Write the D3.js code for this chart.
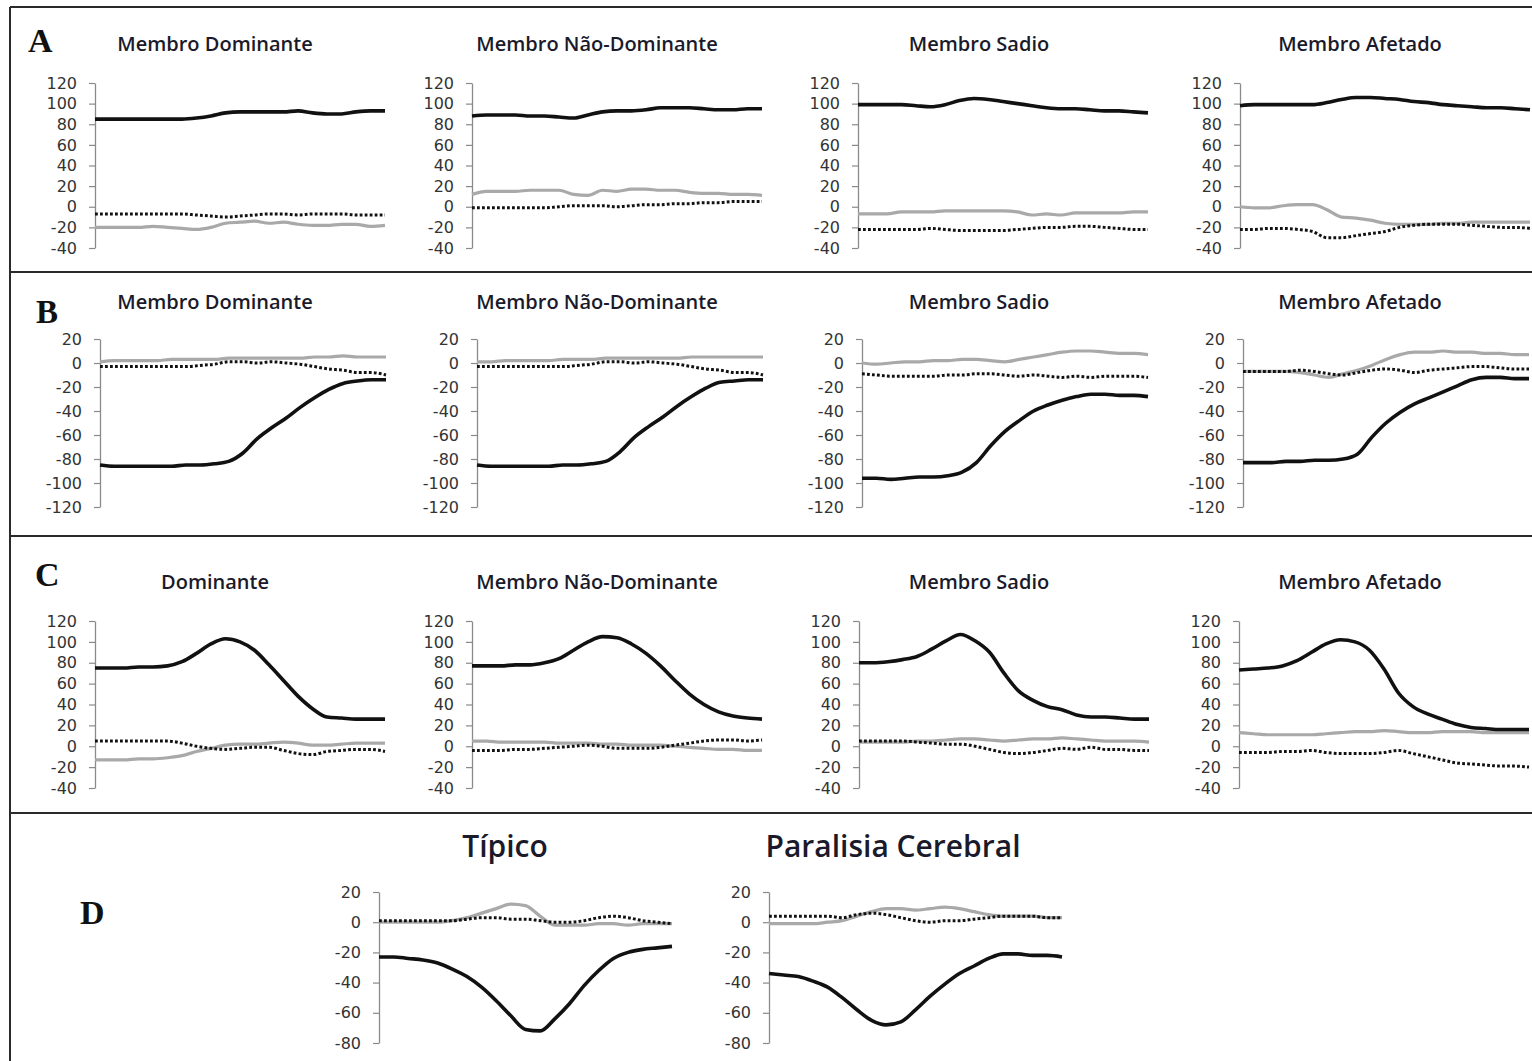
<!DOCTYPE html>
<html><head><meta charset="utf-8">
<script src="https://cdn.jsdelivr.net/npm/d3@7"></script>
<style>body{margin:0;background:#fff;} svg{display:block;}</style>
</head><body><svg id="c" width="1532" height="1061"></svg>
<script>
// ---------- DATA ----------
const timePct = [0,5,10,15,20,25,30,35,40,45,50,55,60,65,70,75,80,85,90,95,100];

const titlesA = ["Membro Dominante","Membro Não-Dominante","Membro Sadio","Membro Afetado"];
const titlesB = ["Membro Dominante","Membro Não-Dominante","Membro Sadio","Membro Afetado"];
const titlesC = ["Dominante","Membro Não-Dominante","Membro Sadio","Membro Afetado"];
const titlesD = ["Típico","Paralisia Cerebral"];
const panelLetters = ["A","B","C","D"];

const ticksA = [120,100,80,60,40,20,0,-20,-40];
const ticksB = [20,0,-20,-40,-60,-80,-100,-120];
const ticksC = [120,100,80,60,40,20,0,-20,-40];
const ticksD = [20,0,-20,-40,-60,-80];

// Panel A
const A1_black  = [85,85,85,85,85,85,85,86,88,91,92,92,92,92,93,91,90,90,92,93,93];
const A1_gray   = [-20,-20,-20,-20,-19,-20,-21,-22,-20,-16,-15,-14,-16,-15,-17,-18,-18,-17,-17,-19,-18];
const A1_dotted = [-7,-7,-7,-7,-7,-7,-7,-8,-9,-10,-9,-8,-7,-7,-8,-7,-7,-7,-8,-8,-8];
const A2_black  = [88,89,89,89,88,88,87,86,89,92,93,93,94,96,96,96,95,94,94,95,95];
const A2_gray   = [12,15,15,15,16,16,16,12,11,16,15,17,17,16,16,14,13,13,12,12,11];
const A2_dotted = [-1,-1,-1,-1,-1,-1,0,1,1,1,0,1,2,2,3,3,4,4,5,5,5];
const A3_black  = [99,99,99,99,98,97,99,103,105,104,102,100,98,96,95,95,94,93,93,92,91];
const A3_gray   = [-7,-7,-7,-5,-5,-5,-4,-4,-4,-4,-4,-5,-8,-7,-8,-6,-6,-6,-6,-5,-5];
const A3_dotted = [-22,-22,-22,-22,-22,-21,-22,-23,-23,-23,-23,-22,-21,-20,-20,-19,-19,-20,-21,-22,-22];
const A4_black  = [98,99,99,99,99,99,101,104,106,106,105,104,102,101,99,98,97,96,96,95,94];
const A4_gray   = [0,-1,-1,1,2,2,-3,-10,-11,-13,-16,-17,-17,-17,-16,-16,-15,-15,-15,-15,-15];
const A4_dotted = [-22,-22,-21,-21,-22,-24,-30,-30,-28,-26,-24,-20,-18,-17,-17,-17,-18,-19,-20,-20,-21];

// Panel B
const B1_black  = [-85,-86,-86,-86,-86,-86,-85,-85,-84,-82,-75,-63,-54,-46,-37,-29,-22,-17,-15,-14,-14];
const B1_gray   = [1,2,2,2,2,3,3,3,3,4,4,4,4,4,4,5,5,6,5,5,5];
const B1_dotted = [-3,-3,-3,-3,-3,-3,-3,-2,-1,1,1,0,1,0,-1,-3,-5,-6,-8,-8,-10];
const B2_black  = [-85,-86,-86,-86,-86,-86,-85,-85,-84,-82,-74,-62,-53,-45,-36,-28,-21,-16,-15,-14,-14];
const B2_gray   = [1,1,2,2,2,2,3,3,3,4,4,4,4,4,4,5,5,5,5,5,5];
const B2_dotted = [-3,-3,-3,-3,-3,-3,-3,-2,-1,1,1,0,1,0,-1,-3,-5,-6,-8,-8,-10];
const B3_black  = [-96,-96,-97,-96,-95,-95,-94,-91,-83,-69,-57,-48,-40,-35,-31,-28,-26,-26,-27,-27,-28];
const B3_gray   = [0,-1,0,1,1,2,2,3,3,2,1,3,5,7,9,10,10,9,8,8,7];
const B3_dotted = [-9,-10,-11,-11,-11,-11,-10,-10,-9,-9,-10,-11,-10,-11,-12,-11,-12,-11,-11,-11,-12];
const B4_black  = [-83,-83,-83,-82,-82,-81,-81,-80,-76,-62,-50,-41,-34,-29,-24,-19,-14,-12,-12,-13,-13];
const B4_gray   = [-7,-7,-7,-7,-8,-10,-12,-9,-6,-2,3,7,9,9,10,9,9,8,8,7,7];
const B4_dotted = [-7,-7,-7,-7,-6,-7,-9,-10,-8,-6,-5,-6,-8,-6,-5,-4,-3,-3,-4,-5,-5];

// Panel C
const C1_black  = [75,75,75,76,76,77,81,89,98,103,100,92,78,63,48,36,28,27,26,26,26];
const C1_gray   = [-13,-13,-13,-12,-12,-11,-9,-5,-2,1,2,2,3,4,3,1,1,2,3,3,3];
const C1_dotted = [5,5,5,5,5,5,3,0,-2,-3,-2,-1,-1,-4,-7,-8,-5,-4,-3,-3,-5];
const C2_black  = [77,77,77,78,78,80,84,92,100,105,104,98,89,77,63,50,40,33,29,27,26];
const C2_gray   = [5,5,4,4,4,4,3,3,3,2,2,1,1,1,0,-1,-2,-3,-3,-4,-4];
const C2_dotted = [-4,-4,-4,-3,-3,-2,-1,0,1,0,-2,-2,-2,-1,1,3,5,6,6,5,6];
const C3_black  = [80,80,81,83,86,93,101,107,101,90,70,53,44,38,35,30,28,28,27,26,26];
const C3_gray   = [4,4,4,4,5,5,6,7,7,6,5,6,7,7,8,7,6,5,5,5,4];
const C3_dotted = [5,5,5,5,4,3,2,2,0,-3,-6,-7,-6,-4,-2,-3,-1,-3,-3,-4,-4];
const C4_black  = [73,74,75,77,82,90,98,102,100,92,74,51,38,31,26,21,18,17,16,16,16];
const C4_gray   = [13,12,11,11,11,11,12,13,14,14,15,14,13,13,14,14,14,13,13,13,13];
const C4_dotted = [-6,-6,-6,-5,-5,-4,-6,-7,-7,-7,-6,-4,-7,-10,-13,-16,-17,-18,-19,-19,-20];

// Panel D
const D1_black  = [-23,-23,-24,-25,-27,-31,-36,-43,-52,-62,-71,-72,-64,-54,-42,-32,-24,-20,-18,-17,-16];
const D1_gray   = [0,0,0,0,0,1,3,6,9,12,11,4,-2,-2,-2,-1,-1,-2,-1,-1,-1];
const D1_dotted = [1,1,1,1,1,1,2,3,3,2,2,1,0,0,1,3,4,3,1,0,-1];
const D2_black  = [-34,-35,-36,-39,-43,-50,-58,-65,-68,-66,-58,-49,-41,-34,-29,-24,-21,-21,-22,-22,-23];
const D2_gray   = [-1,-1,-1,-1,0,1,4,7,9,9,8,9,10,9,7,5,4,4,4,3,3];
const D2_dotted = [4,4,4,4,4,3,5,6,5,3,1,0,1,1,2,3,4,4,4,3,3];

// ---------- LAYOUT ----------
const svg = d3.select("#c");
const W = 1532, H = 1061;

// frame
const frame = svg.append("g").attr("stroke","#2a2a2a").attr("stroke-width",2);
frame.append("line").attr("x1",10).attr("x2",W).attr("y1",7).attr("y2",7);
frame.append("line").attr("x1",10).attr("x2",10).attr("y1",7).attr("y2",H);
[272,536,813].forEach(y=>frame.append("line").attr("x1",10).attr("x2",W).attr("y1",y).attr("y2",y));

const panels = [
  {letter:panelLetters[0], lx:28, ly:52, lsize:34, titles:titlesA, titleY:51, titleX:[215,597,979,1360], tsize:20,
   axisX:[95,472,858,1240], plotW:290, domain:[-40,120], range:[248,83], ticks:ticksA,
   series:[[A1_black,A1_gray,A1_dotted],[A2_black,A2_gray,A2_dotted],[A3_black,A3_gray,A3_dotted],[A4_black,A4_gray,A4_dotted]]},
  {letter:panelLetters[1], lx:36, ly:323, lsize:33, titles:titlesB, titleY:309, titleX:[215,597,979,1360], tsize:20,
   axisX:[100,477,862,1243], plotW:286, domain:[-120,20], range:[507,339], ticks:ticksB,
   series:[[B1_black,B1_gray,B1_dotted],[B2_black,B2_gray,B2_dotted],[B3_black,B3_gray,B3_dotted],[B4_black,B4_gray,B4_dotted]]},
  {letter:panelLetters[2], lx:35, ly:586, lsize:34, titles:titlesC, titleY:589, titleX:[215,597,979,1360], tsize:20,
   axisX:[95,472,859,1239], plotW:290, domain:[-40,120], range:[788,621], ticks:ticksC,
   series:[[C1_black,C1_gray,C1_dotted],[C2_black,C2_gray,C2_dotted],[C3_black,C3_gray,C3_dotted],[C4_black,C4_gray,C4_dotted]]},
  {letter:panelLetters[3], lx:80, ly:924, lsize:34, titles:titlesD, titleY:857, titleX:[505,893], tsize:30,
   axisX:[379,769], plotW:293, domain:[-80,20], range:[1043,892], ticks:ticksD,
   series:[[D1_black,D1_gray,D1_dotted],[D2_black,D2_gray,D2_dotted]]}
];

const styles = [
  {stroke:"#111", width:3.6, dash:null},      // black solid
  {stroke:"#a9a9a9", width:3.2, dash:null},   // gray solid
  {stroke:"#111", width:3, dash:"2.8,2.2"}    // black dotted
];
const drawOrder = [1,2,0];

panels.forEach(p=>{
  svg.append("text").attr("x",p.lx).attr("y",p.ly)
    .attr("font-family","'Liberation Serif','Times New Roman',serif")
    .attr("font-weight","bold").attr("font-size",p.lsize).attr("fill","#111").text(p.letter);

  p.titles.forEach((t,i)=>{
    svg.append("text").attr("x",p.titleX[i]).attr("y",p.titleY)
      .attr("text-anchor","middle").attr("font-family","'Open Sans',sans-serif")
      .attr("font-weight",600).attr("font-size",p.tsize).attr("fill","#1a1a2a").text(t);
  });

  const y = d3.scaleLinear().domain(p.domain).range(p.range);
  p.axisX.forEach((ax,i)=>{
    const x = d3.scaleLinear().domain([0,100]).range([ax, ax+p.plotW]);
    const g = svg.append("g").attr("transform",`translate(${ax},0)`);
    g.call(d3.axisLeft(y).tickValues(p.ticks).tickSize(6).tickSizeOuter(0).tickPadding(12).tickFormat(d=>String(d)));
    g.select(".domain").attr("stroke","#8a8a8a").attr("stroke-width",1.3);
    g.selectAll(".tick line").attr("stroke","#8a8a8a").attr("stroke-width",1.2);
    g.selectAll(".tick text").attr("font-family","'DejaVu Sans',sans-serif").attr("font-size",16).attr("fill","#333");

    const line = d3.line().x((d,k)=>x(timePct[k])).y(d=>y(d)).curve(d3.curveMonotoneX);
    drawOrder.forEach(s=>{
      const st = styles[s];
      const path = svg.append("path").datum(p.series[i][s])
        .attr("d",line).attr("fill","none")
        .attr("stroke",st.stroke).attr("stroke-width",st.width)
        .attr("stroke-linejoin","round");
      if(st.dash) path.attr("stroke-dasharray",st.dash);
    });
  });
});
</script>
</body></html>
